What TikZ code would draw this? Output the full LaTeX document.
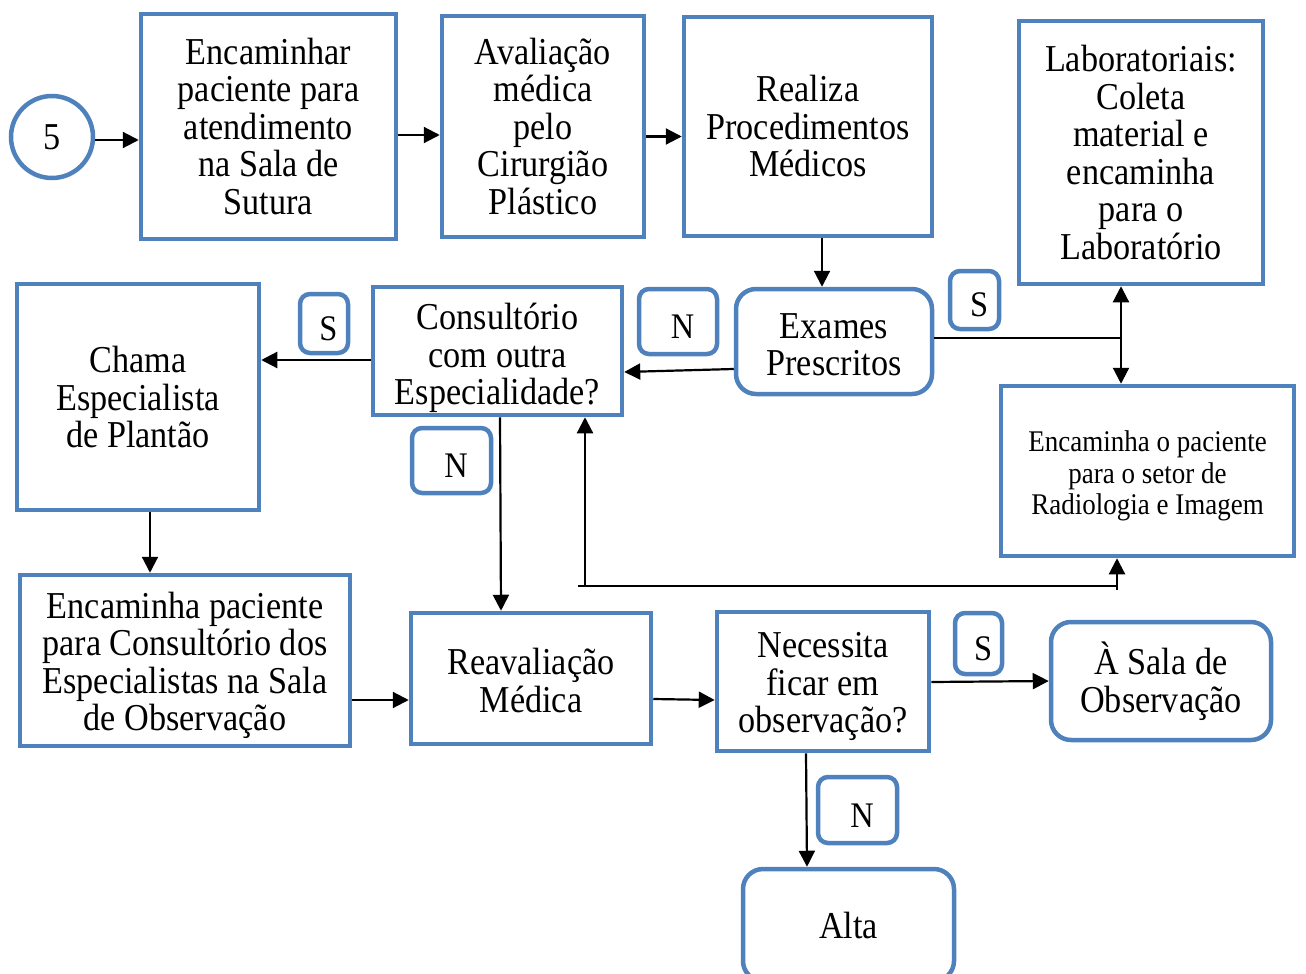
\documentclass[tikz,border=0pt]{standalone}
\usepackage{fontspec}
\setmainfont{Liberation Serif}[FakeStretch=0.9]
\usetikzlibrary{arrows.meta}
\definecolor{bblue}{HTML}{4F81BD}
\newcommand{\lift}[1]{\rule{0pt}{#1}}
\begin{document}
\begin{tikzpicture}[x=1pt,y=-1pt,
 box/.style={draw=bblue,line width=4.5pt,align=center,inner sep=0pt,font=\fontsize{38}{37.5}\selectfont},
 rbox/.style={box,rounded corners=20pt},
 lbl/.style={draw=bblue,line width=4.5pt,rounded corners=10pt,inner sep=0pt,font=\fontsize{36}{37.5}\selectfont,
   execute at begin node={\hspace*{9pt}\rule{0pt}{0.95em}}},
 arr/.style={line width=2.2pt,-{Triangle[length=16pt,width=16pt]}},
 arrboth/.style={line width=2.2pt,{Triangle[length=16pt,width=16pt]}-{Triangle[length=16pt,width=16pt]}},
 ln/.style={line width=2.2pt}]
\useasboundingbox (0,0) rectangle (1306,974);

\node[draw=bblue,line width=4.5pt,circle,minimum size=82pt,inner sep=0pt,font=\fontsize{38}{37.5}\selectfont] (c5) at (52,137) {5};
\node[box,minimum width=255pt,minimum height=225pt] (A) at (268.5,126.5) {Encaminhar\\paciente para\\atendimento\\na Sala de\\Sutura};
\node[box,minimum width=202pt,minimum height=221pt] (B) at (543,126.5) {Avaliação\\médica\\pelo\\Cirurgião\\Plástico};
\node[box,minimum width=248pt,minimum height=219pt] (C) at (808,126.5) {Realiza\\Procedimentos\\Médicos};
\node[box,minimum width=244pt,minimum height=263pt] (D) at (1141,152.5) {Laboratoriais:\\Coleta\\material e\\encaminha\\para o\\Laboratório};
\node[rbox,minimum width=196pt,minimum height=105pt] (E) at (834,341.5) {\lift{31pt}Exames\\Prescritos};
\node[box,minimum width=249pt,minimum height=128pt] (F) at (497.5,351) {\lift{41pt}Consultório\\com outra\\Especialidade?};
\node[box,minimum width=242pt,minimum height=226pt] (G) at (138,397) {Chama\\Especialista\\de Plantão};
\node[box,minimum width=293pt,minimum height=170pt,font=\fontsize{30}{31.5}\selectfont] (H) at (1147.5,471) {\lift{31pt}Encaminha o paciente\\para o setor de\\Radiologia e Imagem};
\node[box,minimum width=330pt,minimum height=171pt] (I) at (185,660.5) {\lift{36pt}Encaminha paciente\\para Consultório dos\\Especialistas na Sala\\de Observação};
\node[box,minimum width=240pt,minimum height=131pt] (J) at (531,678.5) {\lift{30pt}Reavaliação\\Médica};
\node[box,minimum width=212pt,minimum height=139pt] (K) at (823,681.5) {\lift{36pt}Necessita\\ficar em\\observação?};
\node[rbox,minimum width=220pt,minimum height=118pt] (L) at (1161,681) {À Sala de\\Observação};
\node[rbox,minimum width=211pt,minimum height=112pt] (M) at (848.5,925) {Alta};

\node[lbl,minimum width=48pt,minimum height=59pt] (s1) at (324,323.5) {S};
\node[lbl,minimum width=78pt,minimum height=65pt] (n1) at (678,321.5) {N};
\node[lbl,minimum width=49pt,minimum height=58pt] (s2) at (974.5,300) {S};
\node[lbl,minimum width=79pt,minimum height=65pt] (n2) at (451.5,460.5) {N};
\node[lbl,minimum width=47pt,minimum height=61pt] (s3) at (978.5,643.5) {S};
\node[lbl,minimum width=79pt,minimum height=66pt] (n3) at (857.5,810) {N};

\draw[arr] ([yshift=-3pt]c5.east) -- ([yshift=-13.5pt]A.west);
\draw[arr] ([yshift=-8.5pt]A.east) -- ([yshift=-8.5pt]B.west);
\draw[arr] ([yshift=-10pt]B.east) -- ([yshift=-10pt]C.west);
\draw[arr] ([xshift=14pt]C.south) -- ([xshift=-12pt]E.north);
\draw[arr] ([yshift=-27.5pt]E.west) -- ([yshift=-21pt]F.east);
\draw[arr] ([yshift=-9pt]F.west) -- ([yshift=37pt]G.east);
\draw[arr] ([xshift=12pt]G.south) -- ([xshift=-35pt]I.north);
\draw[arr] ([xshift=2.5pt]F.south) -- ([xshift=-30pt]J.north);
\draw[arr] ([yshift=-39.5pt]I.east) -- ([yshift=-21.5pt]J.west);
\draw[arr] ([yshift=-20.5pt]J.east) -- ([yshift=-18.5pt]K.west);
\draw[arr] ([yshift=-0.5pt]K.east) -- (L.west);
\draw[arr] ([xshift=-17pt]K.south) -- ([xshift=-41.5pt]M.north);

\coordinate (j1) at (1121,338);
\draw[ln] ([yshift=3.5pt]E.east) -- (j1);
\draw[arrboth] ([xshift=-20pt]D.south) -- ([xshift=-26.5pt]H.north);

\coordinate (b1) at (578,586);
\coordinate (b2) at (1117,590);
\coordinate (b3) at (585,586);
\draw[ln] (b1) -- (b2 |- b1);
\draw[arr] (b2) -- (b2 |- H.south);
\draw[arr] (b3) -- (b3 |- F.south);
\end{tikzpicture}
\end{document}
